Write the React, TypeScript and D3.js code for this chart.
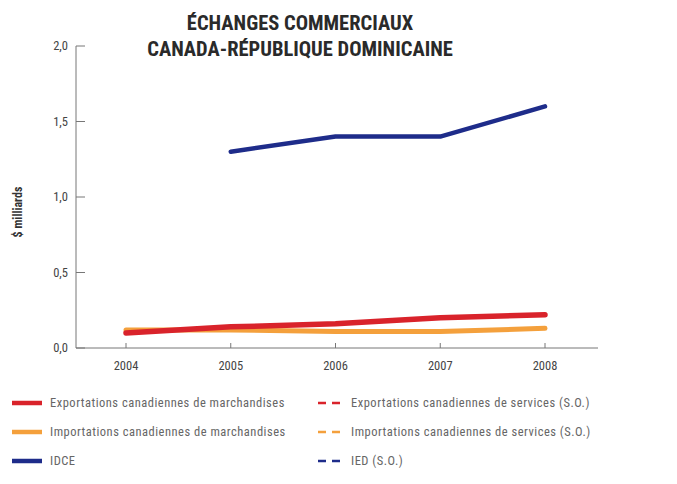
import React from "react";
import * as d3 from "d3";

const years = [2004, 2005, 2006, 2007, 2008];
const exportsMarch = [0.1, 0.14, 0.16, 0.2, 0.22];
const importsMarch = [0.12, 0.12, 0.11, 0.11, 0.13];
const idce: (number | null)[] = [null, 1.3, 1.4, 1.4, 1.6];
const yTicks = [0, 0.5, 1.0, 1.5, 2.0];
const titleLines = ["ÉCHANGES COMMERCIAUX", "CANADA-RÉPUBLIQUE DOMINICAINE"];

const RED = "#d9232b";
const ORANGE = "#f4a03c";
const BLUE = "#1e2c8a";

const legendItems = [
  { label: "Exportations canadiennes de marchandises", color: RED, dashed: false, col: 0, row: 0 },
  { label: "Exportations canadiennes de services (S.O.)", color: RED, dashed: true, col: 1, row: 0 },
  { label: "Importations canadiennes de marchandises", color: ORANGE, dashed: false, col: 0, row: 1 },
  { label: "Importations canadiennes de services (S.O.)", color: ORANGE, dashed: true, col: 1, row: 1 },
  { label: "IDCE", color: BLUE, dashed: false, col: 0, row: 2 },
  { label: "IED (S.O.)", color: BLUE, dashed: true, col: 1, row: 2 },
];

const FONT = "'Liberation Sans Narrow', 'Roboto Condensed', 'Liberation Sans', sans-serif";

export default function App() {
  const W = 677, H = 484;
  const x = d3.scaleLinear().domain([2004, 2008]).range([126, 545]);
  const y = d3.scaleLinear().domain([0, 2]).range([348, 46]);
  const line = d3
    .line<[number, number | null]>()
    .defined((d) => d[1] != null)
    .x((d) => x(d[0]))
    .y((d) => y(d[1] as number));
  const series = [
    { vals: importsMarch, color: ORANGE, w: 5 },
    { vals: exportsMarch, color: RED, w: 5.5 },
    { vals: idce, color: BLUE, w: 4.5 },
  ];
  const fmt = (v: number) => v.toFixed(1).replace(".", ",");
  return (
    <svg
      width={W}
      height={H}
      style={{ position: "absolute", left: 0, top: 0, background: "#fff" }}
      fontFamily={FONT}
    >
      {titleLines.map((t, i) => (
        <text
          key={i}
          x={300}
          y={30 + i * 26}
          textAnchor="middle"
          fontSize={20.5}
          fontWeight="bold"
          fill="#2a2a2a"
        >
          {t}
        </text>
      ))}
      {/* axes */}
      <line x1={76} x2={76} y1={46} y2={y(0)} stroke="#777" strokeWidth={1} />
      <line x1={76} x2={598} y1={y(0)} y2={y(0)} stroke="#777" strokeWidth={1} />
      {yTicks.map((t) => (
        <g key={t}>
          <line x1={76} x2={85} y1={y(t)} y2={y(t)} stroke="#777" />
          <text x={68} y={y(t) + 4} textAnchor="end" fontSize={12.5} fill="#444">
            {fmt(t)}
          </text>
        </g>
      ))}
      {years.map((yr) => (
        <g key={yr}>
          <line x1={x(yr)} x2={x(yr)} y1={y(0)} y2={y(0) - 5} stroke="#777" />
          <text x={x(yr)} y={y(0) + 22} textAnchor="middle" fontSize={12.5} fill="#444">
            {yr}
          </text>
        </g>
      ))}
      <text
        transform={`translate(22, 212) rotate(-90)`}
        textAnchor="middle"
        fontSize={12}
        fontWeight="bold"
        fill="#333"
      >
        $ milliards
      </text>
      {series.map((s, i) => (
        <path
          key={i}
          d={line(years.map((yr, j) => [yr, s.vals[j]]) as [number, number | null][]) || ""}
          fill="none"
          stroke={s.color}
          strokeWidth={s.w}
          strokeLinejoin="round"
          strokeLinecap="round"
        />
      ))}
      {legendItems.map((it, i) => {
        const lx = it.col === 0 ? 12 : 318;
        const ly = 403 + it.row * 29;
        return (
          <g key={i}>
            {it.dashed ? (
              <line x1={lx} x2={lx + 22} y1={ly} y2={ly} stroke={it.color} strokeWidth={2.5} strokeDasharray="8,6" />
            ) : (
              <line x1={lx} x2={lx + 30} y1={ly} y2={ly} stroke={it.color} strokeWidth={4.5} />
            )}
            <text
              x={it.col === 0 ? 50 : 351}
              y={ly + 4}
              fontSize={12.5}
              letterSpacing={0.5}
              fill="#666"
            >
              {it.label}
            </text>
          </g>
        );
      })}
    </svg>
  );
}
